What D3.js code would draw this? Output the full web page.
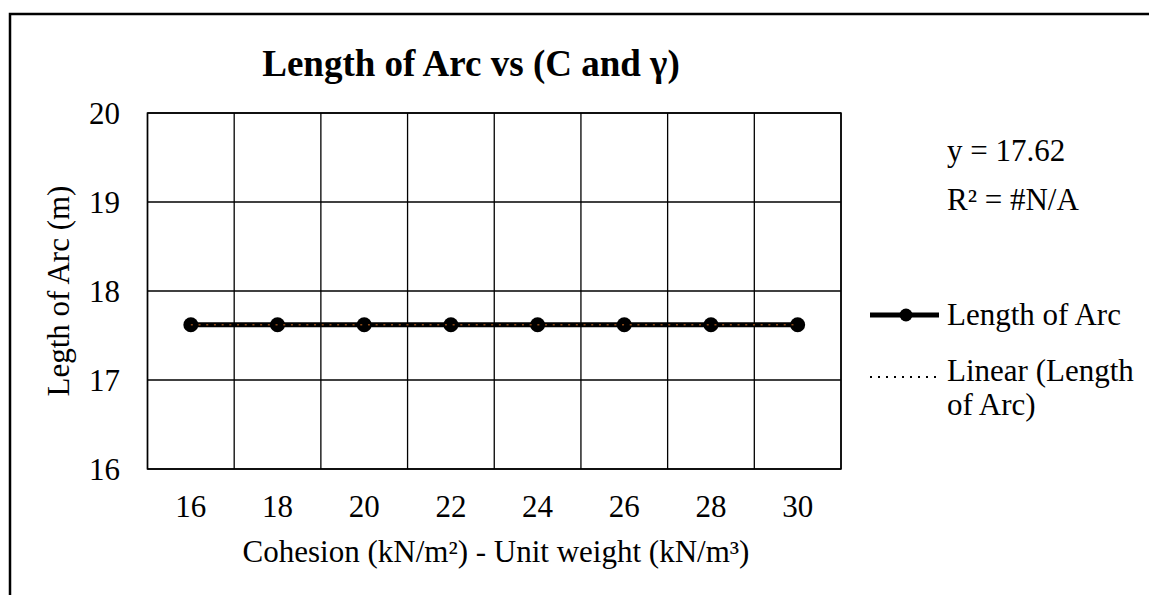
<!DOCTYPE html>
<html>
<head>
<meta charset="utf-8">
<script src="https://cdn.jsdelivr.net/npm/d3@7"></script>
<style>
  html, body { margin: 0; padding: 0; background: #fff; }
  svg { display: block; }
  text { font-family: "Liberation Serif", "Times New Roman", serif; fill: #000; }
</style>
</head>
<body>
<svg id="chart" width="1149" height="595"></svg>
<script>
// Chart data
const categories = ["16", "18", "20", "22", "24", "26", "28", "30"];
const arcLength = [17.62, 17.62, 17.62, 17.62, 17.62, 17.62, 17.62, 17.62];
const yTicks = [16, 17, 18, 19, 20];
const trendSlope = 0;
const trendIntercept = 17.62;
const equationLines = ["y = 17.62", "R\u00B2 = #N/A"];
const legendLabels = ["Length of Arc", ["Linear (Length", "of Arc)"]];

const svg = d3.select("#chart");
const fontSize = 31;

// Outer chart frame (runs off the right and bottom edges)
svg.append("rect")
  .attr("x", 10).attr("y", 14)
  .attr("width", 1300).attr("height", 800)
  .attr("fill", "none").attr("stroke", "#000").attr("stroke-width", 2.5);

const plot = { left: 147.5, right: 841, top: 113, bottom: 469 };

const x = d3.scaleBand().domain(categories).range([plot.left, plot.right]).padding(0);
const y = d3.scaleLinear().domain([16, 20]).range([plot.bottom, plot.top]);

// Title
svg.append("text")
  .attr("x", 471).attr("y", 76)
  .attr("text-anchor", "middle")
  .style("font-size", "37px").style("font-weight", "bold")
  .text("Length of Arc vs (C and \u03B3)");

// Horizontal gridlines
svg.append("g").selectAll("line").data(yTicks).join("line")
  .attr("x1", plot.left).attr("x2", plot.right)
  .attr("y1", d => y(d)).attr("y2", d => y(d))
  .attr("stroke", "#000").attr("stroke-width", 1.3);

// Vertical gridlines on category boundaries
const bounds = categories.map(c => x(c)).concat([x(categories[categories.length - 1]) + x.bandwidth()]);
svg.append("g").selectAll("line").data(bounds).join("line")
  .attr("x1", d => d).attr("x2", d => d)
  .attr("y1", plot.top).attr("y2", plot.bottom)
  .attr("stroke", "#000").attr("stroke-width", 1.3);

// Plot frame
svg.append("rect")
  .attr("x", plot.left).attr("y", plot.top)
  .attr("width", plot.right - plot.left).attr("height", plot.bottom - plot.top)
  .attr("fill", "none").attr("stroke", "#000").attr("stroke-width", 1.5);

// Y axis labels
svg.append("g").selectAll("text").data(yTicks).join("text")
  .attr("x", 120).attr("y", d => y(d))
  .attr("dy", "0.34em")
  .attr("text-anchor", "end")
  .style("font-size", fontSize + "px")
  .text(d => d);

// X axis labels
svg.append("g").selectAll("text").data(categories).join("text")
  .attr("x", d => x(d) + x.bandwidth() / 2).attr("y", 517)
  .attr("text-anchor", "middle")
  .style("font-size", fontSize + "px")
  .text(d => d);

// Axis titles
svg.append("text")
  .attr("x", 496).attr("y", 562)
  .attr("text-anchor", "middle")
  .style("font-size", fontSize + "px")
  .text("Cohesion (kN/m\u00B2) - Unit weight (kN/m\u00B3)");

svg.append("text")
  .attr("transform", `translate(69, ${(plot.top + plot.bottom) / 2}) rotate(-90)`)
  .attr("text-anchor", "middle")
  .style("font-size", fontSize + "px")
  .text("Legth of Arc (m)");

// Data series
const pts = categories.map((c, i) => ({ c, v: arcLength[i] }));
const line = d3.line().x(d => x(d.c) + x.bandwidth() / 2).y(d => y(d.v));

svg.append("path").datum(pts)
  .attr("d", line)
  .attr("fill", "none").attr("stroke", "#000").attr("stroke-width", 5);

svg.append("g").selectAll("circle").data(pts).join("circle")
  .attr("cx", d => x(d.c) + x.bandwidth() / 2).attr("cy", d => y(d.v))
  .attr("r", 7.5).attr("fill", "#000");

// Linear trendline
const trend = categories.map((c, i) => ({ c, v: trendIntercept + trendSlope * (i + 1) }));
svg.append("path").datum(trend)
  .attr("d", line)
  .attr("fill", "none").attr("stroke", "#8a4a1a")
  .attr("stroke-width", 1.6).attr("stroke-dasharray", "2,5.7");

// Trendline equation
svg.append("g").selectAll("text").data(equationLines).join("text")
  .attr("x", 947).attr("y", (d, i) => 161 + i * 49)
  .style("font-size", fontSize + "px")
  .text(d => d);

// Legend
const lg = svg.append("g");
lg.append("line").attr("x1", 870).attr("x2", 939).attr("y1", 315).attr("y2", 315)
  .attr("stroke", "#000").attr("stroke-width", 5);
lg.append("circle").attr("cx", 906).attr("cy", 315).attr("r", 6.5).attr("fill", "#000");
lg.append("text").attr("x", 947).attr("y", 325)
  .style("font-size", fontSize + "px").text(legendLabels[0]);

lg.append("line").attr("x1", 870).attr("x2", 936).attr("y1", 377).attr("y2", 377)
  .attr("stroke", "#000").attr("stroke-width", 2).attr("stroke-dasharray", "2,6");
lg.append("g").selectAll("text").data(legendLabels[1]).join("text")
  .attr("x", 947).attr("y", (d, i) => 381 + i * 34)
  .style("font-size", fontSize + "px")
  .text(d => d);
</script>
</body>
</html>
